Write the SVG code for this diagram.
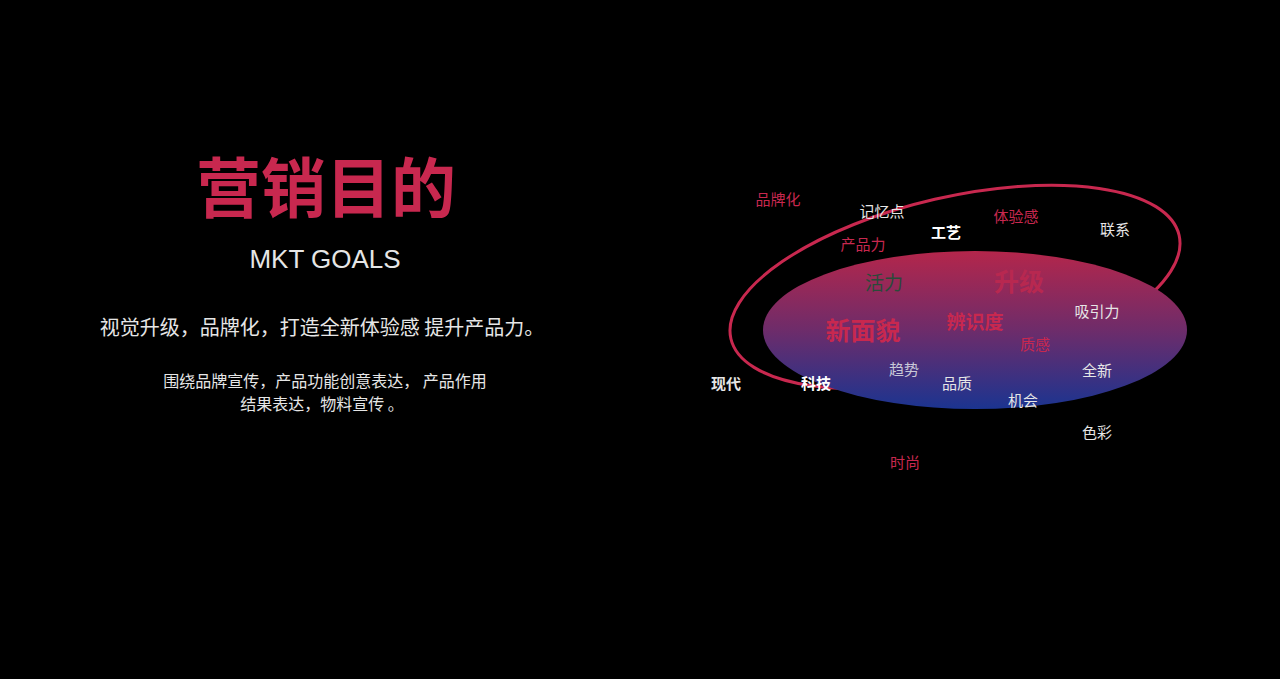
<svg xmlns="http://www.w3.org/2000/svg" width="1280" height="679" viewBox="0 0 1280 679">
<defs>
<linearGradient id="g" x1="0" y1="0" x2="0" y2="1">
<stop offset="0" stop-color="#b4264b"/><stop offset="0.5" stop-color="#6e2c6a"/><stop offset="1" stop-color="#1b3490"/>
</linearGradient>
</defs>
<style>
text{font-family:"Noto Sans CJK SC","Liberation Sans",sans-serif;text-anchor:middle}
.r{fill:#c8284f}.w{fill:#e6e6e6}.s{font-size:15px}
</style>
<rect width="1280" height="679" fill="#000"/>
<g id="title">
<text x="326" y="212" font-size="65" font-weight="bold" class="r">营销目的</text>
<text x="325" y="268" font-size="26" fill="#e6e6e6" style="font-family:'Liberation Sans',sans-serif;font-weight:300">MKT GOALS</text>
<text x="322" y="335" font-size="20" class="w">视觉升级，品牌化，打造全新体验感 提升产品力。</text>
<text x="325" y="387" font-size="16" class="w">围绕品牌宣传，产品功能创意表达， 产品作用</text>
<text x="322" y="410" font-size="16" class="w">结果表达，物料宣传 。</text>
</g>
<g id="shapes">
<ellipse cx="955" cy="287" rx="230" ry="90" transform="rotate(-13 955 287)" fill="none" stroke="#c8284f" stroke-width="3"/>
<ellipse cx="975" cy="330" rx="212" ry="79" fill="url(#g)"/>
</g>
<g id="words" class="s">
<text x="778" y="205" class="r">品牌化</text>
<text x="882" y="217" class="w">记忆点</text>
<text x="946" y="238" fill="#fff" font-weight="bold">工艺</text>
<text x="1016" y="222" class="r">体验感</text>
<text x="1115" y="235" class="w">联系</text>
<text x="863" y="250" class="r">产品力</text>
<text x="884" y="290" font-size="19" fill="#2a4a3a">活力</text>
<text x="1019" y="291" font-size="25" font-weight="bold" fill="#b82850">升级</text>
<text x="1097" y="317" class="w">吸引力</text>
<text x="863" y="340" font-size="25" font-weight="bold" class="r">新面貌</text>
<text x="975" y="329" font-size="19" font-weight="bold" class="r">辨识度</text>
<text x="1035" y="350" class="r">质感</text>
<text x="904" y="375" fill="#c8c8d8">趋势</text>
<text x="1097" y="376" class="w">全新</text>
<text x="726" y="389" class="w" font-weight="bold">现代</text>
<text x="816" y="389" fill="#fff" font-weight="bold">科技</text>
<text x="957" y="389" class="w">品质</text>
<text x="1023" y="406" class="w">机会</text>
<text x="1097" y="438" class="w">色彩</text>
<text x="905" y="468" class="r">时尚</text>
</g>
<g id="connectors"/>
</svg>
